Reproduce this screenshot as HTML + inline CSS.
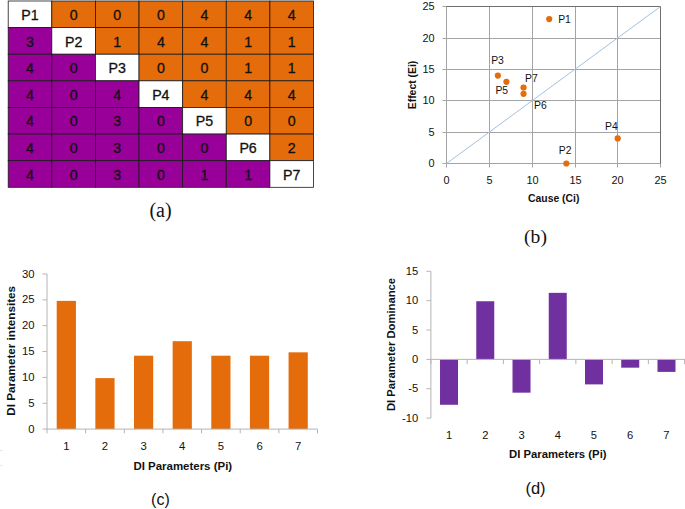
<!DOCTYPE html>
<html lang="en">
<head>
<meta charset="utf-8">
<title>DI parameter figure</title>
<style>
html,body{margin:0;padding:0;background:#fff;}
body{width:685px;height:509px;overflow:hidden;}
svg{display:block;}
</style>
</head>
<body>
<svg width="685" height="509" viewBox="0 0 685 509">
<rect width="685" height="509" fill="#fff"/>
<g id="matrix">
<rect x="8.20" y="1.00" width="43.61" height="26.61" fill="#fff" stroke="#1a1a1a" stroke-width="0.8"/>
<rect x="51.81" y="1.00" width="43.61" height="26.61" fill="#E46C0A" stroke="#1a1a1a" stroke-width="0.8"/>
<rect x="95.43" y="1.00" width="43.61" height="26.61" fill="#E46C0A" stroke="#1a1a1a" stroke-width="0.8"/>
<rect x="139.04" y="1.00" width="43.61" height="26.61" fill="#E46C0A" stroke="#1a1a1a" stroke-width="0.8"/>
<rect x="182.66" y="1.00" width="43.61" height="26.61" fill="#E46C0A" stroke="#1a1a1a" stroke-width="0.8"/>
<rect x="226.27" y="1.00" width="43.61" height="26.61" fill="#E46C0A" stroke="#1a1a1a" stroke-width="0.8"/>
<rect x="269.89" y="1.00" width="43.61" height="26.61" fill="#E46C0A" stroke="#1a1a1a" stroke-width="0.8"/>
<rect x="8.20" y="27.61" width="43.61" height="26.61" fill="#990099" stroke="#1a1a1a" stroke-width="0.8"/>
<rect x="51.81" y="27.61" width="43.61" height="26.61" fill="#fff" stroke="#1a1a1a" stroke-width="0.8"/>
<rect x="95.43" y="27.61" width="43.61" height="26.61" fill="#E46C0A" stroke="#1a1a1a" stroke-width="0.8"/>
<rect x="139.04" y="27.61" width="43.61" height="26.61" fill="#E46C0A" stroke="#1a1a1a" stroke-width="0.8"/>
<rect x="182.66" y="27.61" width="43.61" height="26.61" fill="#E46C0A" stroke="#1a1a1a" stroke-width="0.8"/>
<rect x="226.27" y="27.61" width="43.61" height="26.61" fill="#E46C0A" stroke="#1a1a1a" stroke-width="0.8"/>
<rect x="269.89" y="27.61" width="43.61" height="26.61" fill="#E46C0A" stroke="#1a1a1a" stroke-width="0.8"/>
<rect x="8.20" y="54.23" width="43.61" height="26.61" fill="#990099" stroke="#1a1a1a" stroke-width="0.8"/>
<rect x="51.81" y="54.23" width="43.61" height="26.61" fill="#990099" stroke="#1a1a1a" stroke-width="0.8"/>
<rect x="95.43" y="54.23" width="43.61" height="26.61" fill="#fff" stroke="#1a1a1a" stroke-width="0.8"/>
<rect x="139.04" y="54.23" width="43.61" height="26.61" fill="#E46C0A" stroke="#1a1a1a" stroke-width="0.8"/>
<rect x="182.66" y="54.23" width="43.61" height="26.61" fill="#E46C0A" stroke="#1a1a1a" stroke-width="0.8"/>
<rect x="226.27" y="54.23" width="43.61" height="26.61" fill="#E46C0A" stroke="#1a1a1a" stroke-width="0.8"/>
<rect x="269.89" y="54.23" width="43.61" height="26.61" fill="#E46C0A" stroke="#1a1a1a" stroke-width="0.8"/>
<rect x="8.20" y="80.84" width="43.61" height="26.61" fill="#990099" stroke="#1a1a1a" stroke-width="0.8"/>
<rect x="51.81" y="80.84" width="43.61" height="26.61" fill="#990099" stroke="#1a1a1a" stroke-width="0.8"/>
<rect x="95.43" y="80.84" width="43.61" height="26.61" fill="#990099" stroke="#1a1a1a" stroke-width="0.8"/>
<rect x="139.04" y="80.84" width="43.61" height="26.61" fill="#fff" stroke="#1a1a1a" stroke-width="0.8"/>
<rect x="182.66" y="80.84" width="43.61" height="26.61" fill="#E46C0A" stroke="#1a1a1a" stroke-width="0.8"/>
<rect x="226.27" y="80.84" width="43.61" height="26.61" fill="#E46C0A" stroke="#1a1a1a" stroke-width="0.8"/>
<rect x="269.89" y="80.84" width="43.61" height="26.61" fill="#E46C0A" stroke="#1a1a1a" stroke-width="0.8"/>
<rect x="8.20" y="107.46" width="43.61" height="26.61" fill="#990099" stroke="#1a1a1a" stroke-width="0.8"/>
<rect x="51.81" y="107.46" width="43.61" height="26.61" fill="#990099" stroke="#1a1a1a" stroke-width="0.8"/>
<rect x="95.43" y="107.46" width="43.61" height="26.61" fill="#990099" stroke="#1a1a1a" stroke-width="0.8"/>
<rect x="139.04" y="107.46" width="43.61" height="26.61" fill="#990099" stroke="#1a1a1a" stroke-width="0.8"/>
<rect x="182.66" y="107.46" width="43.61" height="26.61" fill="#fff" stroke="#1a1a1a" stroke-width="0.8"/>
<rect x="226.27" y="107.46" width="43.61" height="26.61" fill="#E46C0A" stroke="#1a1a1a" stroke-width="0.8"/>
<rect x="269.89" y="107.46" width="43.61" height="26.61" fill="#E46C0A" stroke="#1a1a1a" stroke-width="0.8"/>
<rect x="8.20" y="134.07" width="43.61" height="26.61" fill="#990099" stroke="#1a1a1a" stroke-width="0.8"/>
<rect x="51.81" y="134.07" width="43.61" height="26.61" fill="#990099" stroke="#1a1a1a" stroke-width="0.8"/>
<rect x="95.43" y="134.07" width="43.61" height="26.61" fill="#990099" stroke="#1a1a1a" stroke-width="0.8"/>
<rect x="139.04" y="134.07" width="43.61" height="26.61" fill="#990099" stroke="#1a1a1a" stroke-width="0.8"/>
<rect x="182.66" y="134.07" width="43.61" height="26.61" fill="#990099" stroke="#1a1a1a" stroke-width="0.8"/>
<rect x="226.27" y="134.07" width="43.61" height="26.61" fill="#fff" stroke="#1a1a1a" stroke-width="0.8"/>
<rect x="269.89" y="134.07" width="43.61" height="26.61" fill="#E46C0A" stroke="#1a1a1a" stroke-width="0.8"/>
<rect x="8.20" y="160.69" width="43.61" height="26.61" fill="#990099" stroke="#1a1a1a" stroke-width="0.8"/>
<rect x="51.81" y="160.69" width="43.61" height="26.61" fill="#990099" stroke="#1a1a1a" stroke-width="0.8"/>
<rect x="95.43" y="160.69" width="43.61" height="26.61" fill="#990099" stroke="#1a1a1a" stroke-width="0.8"/>
<rect x="139.04" y="160.69" width="43.61" height="26.61" fill="#990099" stroke="#1a1a1a" stroke-width="0.8"/>
<rect x="182.66" y="160.69" width="43.61" height="26.61" fill="#990099" stroke="#1a1a1a" stroke-width="0.8"/>
<rect x="226.27" y="160.69" width="43.61" height="26.61" fill="#990099" stroke="#1a1a1a" stroke-width="0.8"/>
<rect x="269.89" y="160.69" width="43.61" height="26.61" fill="#fff" stroke="#1a1a1a" stroke-width="0.8"/>
<text x="30.01" y="20.00" font-family='"Liberation Sans", sans-serif' font-size="14.2" text-anchor="middle" fill="#111" stroke="#111" stroke-width="0.3">P1</text>
<text x="73.62" y="20.00" font-family='"Liberation Sans", sans-serif' font-size="14.2" text-anchor="middle" fill="#111" stroke="#111" stroke-width="0.3">0</text>
<text x="117.24" y="20.00" font-family='"Liberation Sans", sans-serif' font-size="14.2" text-anchor="middle" fill="#111" stroke="#111" stroke-width="0.3">0</text>
<text x="160.85" y="20.00" font-family='"Liberation Sans", sans-serif' font-size="14.2" text-anchor="middle" fill="#111" stroke="#111" stroke-width="0.3">0</text>
<text x="204.46" y="20.00" font-family='"Liberation Sans", sans-serif' font-size="14.2" text-anchor="middle" fill="#111" stroke="#111" stroke-width="0.3">4</text>
<text x="248.08" y="20.00" font-family='"Liberation Sans", sans-serif' font-size="14.2" text-anchor="middle" fill="#111" stroke="#111" stroke-width="0.3">4</text>
<text x="291.69" y="20.00" font-family='"Liberation Sans", sans-serif' font-size="14.2" text-anchor="middle" fill="#111" stroke="#111" stroke-width="0.3">4</text>
<text x="30.01" y="46.61" font-family='"Liberation Sans", sans-serif' font-size="14.2" text-anchor="middle" fill="#111" stroke="#111" stroke-width="0.3">3</text>
<text x="73.62" y="46.61" font-family='"Liberation Sans", sans-serif' font-size="14.2" text-anchor="middle" fill="#111" stroke="#111" stroke-width="0.3">P2</text>
<text x="117.24" y="46.61" font-family='"Liberation Sans", sans-serif' font-size="14.2" text-anchor="middle" fill="#111" stroke="#111" stroke-width="0.3">1</text>
<text x="160.85" y="46.61" font-family='"Liberation Sans", sans-serif' font-size="14.2" text-anchor="middle" fill="#111" stroke="#111" stroke-width="0.3">4</text>
<text x="204.46" y="46.61" font-family='"Liberation Sans", sans-serif' font-size="14.2" text-anchor="middle" fill="#111" stroke="#111" stroke-width="0.3">4</text>
<text x="248.08" y="46.61" font-family='"Liberation Sans", sans-serif' font-size="14.2" text-anchor="middle" fill="#111" stroke="#111" stroke-width="0.3">1</text>
<text x="291.69" y="46.61" font-family='"Liberation Sans", sans-serif' font-size="14.2" text-anchor="middle" fill="#111" stroke="#111" stroke-width="0.3">1</text>
<text x="30.01" y="73.23" font-family='"Liberation Sans", sans-serif' font-size="14.2" text-anchor="middle" fill="#111" stroke="#111" stroke-width="0.3">4</text>
<text x="73.62" y="73.23" font-family='"Liberation Sans", sans-serif' font-size="14.2" text-anchor="middle" fill="#111" stroke="#111" stroke-width="0.3">0</text>
<text x="117.24" y="73.23" font-family='"Liberation Sans", sans-serif' font-size="14.2" text-anchor="middle" fill="#111" stroke="#111" stroke-width="0.3">P3</text>
<text x="160.85" y="73.23" font-family='"Liberation Sans", sans-serif' font-size="14.2" text-anchor="middle" fill="#111" stroke="#111" stroke-width="0.3">0</text>
<text x="204.46" y="73.23" font-family='"Liberation Sans", sans-serif' font-size="14.2" text-anchor="middle" fill="#111" stroke="#111" stroke-width="0.3">0</text>
<text x="248.08" y="73.23" font-family='"Liberation Sans", sans-serif' font-size="14.2" text-anchor="middle" fill="#111" stroke="#111" stroke-width="0.3">1</text>
<text x="291.69" y="73.23" font-family='"Liberation Sans", sans-serif' font-size="14.2" text-anchor="middle" fill="#111" stroke="#111" stroke-width="0.3">1</text>
<text x="30.01" y="99.84" font-family='"Liberation Sans", sans-serif' font-size="14.2" text-anchor="middle" fill="#111" stroke="#111" stroke-width="0.3">4</text>
<text x="73.62" y="99.84" font-family='"Liberation Sans", sans-serif' font-size="14.2" text-anchor="middle" fill="#111" stroke="#111" stroke-width="0.3">0</text>
<text x="117.24" y="99.84" font-family='"Liberation Sans", sans-serif' font-size="14.2" text-anchor="middle" fill="#111" stroke="#111" stroke-width="0.3">4</text>
<text x="160.85" y="99.84" font-family='"Liberation Sans", sans-serif' font-size="14.2" text-anchor="middle" fill="#111" stroke="#111" stroke-width="0.3">P4</text>
<text x="204.46" y="99.84" font-family='"Liberation Sans", sans-serif' font-size="14.2" text-anchor="middle" fill="#111" stroke="#111" stroke-width="0.3">4</text>
<text x="248.08" y="99.84" font-family='"Liberation Sans", sans-serif' font-size="14.2" text-anchor="middle" fill="#111" stroke="#111" stroke-width="0.3">4</text>
<text x="291.69" y="99.84" font-family='"Liberation Sans", sans-serif' font-size="14.2" text-anchor="middle" fill="#111" stroke="#111" stroke-width="0.3">4</text>
<text x="30.01" y="126.46" font-family='"Liberation Sans", sans-serif' font-size="14.2" text-anchor="middle" fill="#111" stroke="#111" stroke-width="0.3">4</text>
<text x="73.62" y="126.46" font-family='"Liberation Sans", sans-serif' font-size="14.2" text-anchor="middle" fill="#111" stroke="#111" stroke-width="0.3">0</text>
<text x="117.24" y="126.46" font-family='"Liberation Sans", sans-serif' font-size="14.2" text-anchor="middle" fill="#111" stroke="#111" stroke-width="0.3">3</text>
<text x="160.85" y="126.46" font-family='"Liberation Sans", sans-serif' font-size="14.2" text-anchor="middle" fill="#111" stroke="#111" stroke-width="0.3">0</text>
<text x="204.46" y="126.46" font-family='"Liberation Sans", sans-serif' font-size="14.2" text-anchor="middle" fill="#111" stroke="#111" stroke-width="0.3">P5</text>
<text x="248.08" y="126.46" font-family='"Liberation Sans", sans-serif' font-size="14.2" text-anchor="middle" fill="#111" stroke="#111" stroke-width="0.3">0</text>
<text x="291.69" y="126.46" font-family='"Liberation Sans", sans-serif' font-size="14.2" text-anchor="middle" fill="#111" stroke="#111" stroke-width="0.3">0</text>
<text x="30.01" y="153.07" font-family='"Liberation Sans", sans-serif' font-size="14.2" text-anchor="middle" fill="#111" stroke="#111" stroke-width="0.3">4</text>
<text x="73.62" y="153.07" font-family='"Liberation Sans", sans-serif' font-size="14.2" text-anchor="middle" fill="#111" stroke="#111" stroke-width="0.3">0</text>
<text x="117.24" y="153.07" font-family='"Liberation Sans", sans-serif' font-size="14.2" text-anchor="middle" fill="#111" stroke="#111" stroke-width="0.3">3</text>
<text x="160.85" y="153.07" font-family='"Liberation Sans", sans-serif' font-size="14.2" text-anchor="middle" fill="#111" stroke="#111" stroke-width="0.3">0</text>
<text x="204.46" y="153.07" font-family='"Liberation Sans", sans-serif' font-size="14.2" text-anchor="middle" fill="#111" stroke="#111" stroke-width="0.3">0</text>
<text x="248.08" y="153.07" font-family='"Liberation Sans", sans-serif' font-size="14.2" text-anchor="middle" fill="#111" stroke="#111" stroke-width="0.3">P6</text>
<text x="291.69" y="153.07" font-family='"Liberation Sans", sans-serif' font-size="14.2" text-anchor="middle" fill="#111" stroke="#111" stroke-width="0.3">2</text>
<text x="30.01" y="179.69" font-family='"Liberation Sans", sans-serif' font-size="14.2" text-anchor="middle" fill="#111" stroke="#111" stroke-width="0.3">4</text>
<text x="73.62" y="179.69" font-family='"Liberation Sans", sans-serif' font-size="14.2" text-anchor="middle" fill="#111" stroke="#111" stroke-width="0.3">0</text>
<text x="117.24" y="179.69" font-family='"Liberation Sans", sans-serif' font-size="14.2" text-anchor="middle" fill="#111" stroke="#111" stroke-width="0.3">3</text>
<text x="160.85" y="179.69" font-family='"Liberation Sans", sans-serif' font-size="14.2" text-anchor="middle" fill="#111" stroke="#111" stroke-width="0.3">0</text>
<text x="204.46" y="179.69" font-family='"Liberation Sans", sans-serif' font-size="14.2" text-anchor="middle" fill="#111" stroke="#111" stroke-width="0.3">1</text>
<text x="248.08" y="179.69" font-family='"Liberation Sans", sans-serif' font-size="14.2" text-anchor="middle" fill="#111" stroke="#111" stroke-width="0.3">1</text>
<text x="291.69" y="179.69" font-family='"Liberation Sans", sans-serif' font-size="14.2" text-anchor="middle" fill="#111" stroke="#111" stroke-width="0.3">P7</text>
</g>
<text x="160.5" y="216.8" font-family='"Liberation Serif", serif' font-size="20" text-anchor="middle" fill="#111">(a)</text>
<g id="scatter">
<line x1="442.50" y1="163.5" x2="660.50" y2="163.5" stroke="#a4a4a4" stroke-width="1"/>
<line x1="446.5" y1="6.50" x2="446.5" y2="167.50" stroke="#a4a4a4" stroke-width="1"/>
<line x1="442.50" y1="132.5" x2="660.50" y2="132.5" stroke="#a4a4a4" stroke-width="1"/>
<line x1="489.5" y1="6.50" x2="489.5" y2="167.50" stroke="#a4a4a4" stroke-width="1"/>
<line x1="442.50" y1="100.5" x2="660.50" y2="100.5" stroke="#a4a4a4" stroke-width="1"/>
<line x1="532.5" y1="6.50" x2="532.5" y2="167.50" stroke="#a4a4a4" stroke-width="1"/>
<line x1="442.50" y1="69.5" x2="660.50" y2="69.5" stroke="#a4a4a4" stroke-width="1"/>
<line x1="575.5" y1="6.50" x2="575.5" y2="167.50" stroke="#a4a4a4" stroke-width="1"/>
<line x1="442.50" y1="38.5" x2="660.50" y2="38.5" stroke="#a4a4a4" stroke-width="1"/>
<line x1="617.5" y1="6.50" x2="617.5" y2="167.50" stroke="#a4a4a4" stroke-width="1"/>
<line x1="442.50" y1="6.5" x2="660.50" y2="6.5" stroke="#a4a4a4" stroke-width="1"/>
<line x1="660.5" y1="6.50" x2="660.5" y2="167.50" stroke="#a4a4a4" stroke-width="1"/>
<polyline points="446.5,6.5 660.5,6.5 660.5,163.5" fill="none" stroke="#6e6e6e" stroke-width="1"/>
<line x1="446.5" y1="163.5" x2="660.5" y2="6.5" stroke="#a5bfe0" stroke-width="1"/>
<text x="434.5" y="167.30" font-family='"Liberation Sans", sans-serif' font-size="10.9" text-anchor="end" fill="#111">0</text>
<text x="446.5" y="183.6" font-family='"Liberation Sans", sans-serif' font-size="10.9" text-anchor="middle" fill="#111">0</text>
<text x="434.5" y="136.30" font-family='"Liberation Sans", sans-serif' font-size="10.9" text-anchor="end" fill="#111">5</text>
<text x="489.5" y="183.6" font-family='"Liberation Sans", sans-serif' font-size="10.9" text-anchor="middle" fill="#111">5</text>
<text x="434.5" y="104.30" font-family='"Liberation Sans", sans-serif' font-size="10.9" text-anchor="end" fill="#111">10</text>
<text x="532.5" y="183.6" font-family='"Liberation Sans", sans-serif' font-size="10.9" text-anchor="middle" fill="#111">10</text>
<text x="434.5" y="73.30" font-family='"Liberation Sans", sans-serif' font-size="10.9" text-anchor="end" fill="#111">15</text>
<text x="575.5" y="183.6" font-family='"Liberation Sans", sans-serif' font-size="10.9" text-anchor="middle" fill="#111">15</text>
<text x="434.5" y="42.30" font-family='"Liberation Sans", sans-serif' font-size="10.9" text-anchor="end" fill="#111">20</text>
<text x="617.5" y="183.6" font-family='"Liberation Sans", sans-serif' font-size="10.9" text-anchor="middle" fill="#111">20</text>
<text x="434.5" y="10.30" font-family='"Liberation Sans", sans-serif' font-size="10.9" text-anchor="end" fill="#111">25</text>
<text x="660.5" y="183.6" font-family='"Liberation Sans", sans-serif' font-size="10.9" text-anchor="middle" fill="#111">25</text>
<circle cx="549.22" cy="19.06" r="3.1" fill="#E46C0A"/>
<circle cx="566.34" cy="163.50" r="3.1" fill="#E46C0A"/>
<circle cx="497.86" cy="75.58" r="3.1" fill="#E46C0A"/>
<circle cx="617.70" cy="138.38" r="3.1" fill="#E46C0A"/>
<circle cx="506.42" cy="81.86" r="3.1" fill="#E46C0A"/>
<circle cx="523.54" cy="93.79" r="3.1" fill="#E46C0A"/>
<circle cx="523.54" cy="87.51" r="3.1" fill="#E46C0A"/>
<text x="558.2" y="22.7" font-family='"Liberation Sans", sans-serif' font-size="10.9" textLength="12.7" lengthAdjust="spacingAndGlyphs" fill="#111">P1</text>
<text x="558.8" y="154.0" font-family='"Liberation Sans", sans-serif' font-size="10.9" textLength="12.7" lengthAdjust="spacingAndGlyphs" fill="#111">P2</text>
<text x="491.2" y="63.5" font-family='"Liberation Sans", sans-serif' font-size="10.9" textLength="12.7" lengthAdjust="spacingAndGlyphs" fill="#111">P3</text>
<text x="605.0" y="129.8" font-family='"Liberation Sans", sans-serif' font-size="10.9" textLength="12.7" lengthAdjust="spacingAndGlyphs" fill="#111">P4</text>
<text x="495.4" y="93.8" font-family='"Liberation Sans", sans-serif' font-size="10.9" textLength="12.7" lengthAdjust="spacingAndGlyphs" fill="#111">P5</text>
<text x="534.0" y="109.4" font-family='"Liberation Sans", sans-serif' font-size="10.9" textLength="12.7" lengthAdjust="spacingAndGlyphs" fill="#111">P6</text>
<text x="525.0" y="81.5" font-family='"Liberation Sans", sans-serif' font-size="10.9" textLength="12.7" lengthAdjust="spacingAndGlyphs" fill="#111">P7</text>
<text x="553.7" y="202" font-family='"Liberation Sans", sans-serif' font-size="10.8" font-weight="bold" text-anchor="middle" textLength="51.4" lengthAdjust="spacingAndGlyphs" fill="#111">Cause (Ci)</text>
<text transform="translate(416.2 85) rotate(-90)" font-family='"Liberation Sans", sans-serif' font-size="10.8" font-weight="bold" text-anchor="middle" textLength="48.5" lengthAdjust="spacingAndGlyphs" fill="#111">Effect (Ei)</text>
</g>
<text x="535.5" y="243.3" font-family='"Liberation Serif", serif' font-size="19.6" text-anchor="middle" fill="#111">(b)</text>
<g id="barc">
<rect x="56.72" y="300.88" width="19.2" height="128.22" fill="#E46C0A"/>
<rect x="95.36" y="378.12" width="19.2" height="50.98" fill="#E46C0A"/>
<rect x="134.01" y="355.69" width="19.2" height="73.41" fill="#E46C0A"/>
<rect x="172.65" y="341.21" width="19.2" height="87.89" fill="#E46C0A"/>
<rect x="211.29" y="355.69" width="19.2" height="73.41" fill="#E46C0A"/>
<rect x="249.94" y="355.69" width="19.2" height="73.41" fill="#E46C0A"/>
<rect x="288.58" y="352.33" width="19.2" height="76.77" fill="#E46C0A"/>
<line x1="47.0" y1="274.0" x2="47.0" y2="429.1" stroke="#b4b4b4" stroke-width="1"/>
<line x1="47.0" y1="429.1" x2="317.5" y2="429.1" stroke="#b4b4b4" stroke-width="1"/>
<line x1="42.5" y1="429.10" x2="47.0" y2="429.10" stroke="#b4b4b4" stroke-width="1"/>
<text x="34.5" y="432.60" font-family='"Liberation Sans", sans-serif' font-size="11.3" text-anchor="end" fill="#111">0</text>
<line x1="42.5" y1="403.25" x2="47.0" y2="403.25" stroke="#b4b4b4" stroke-width="1"/>
<text x="34.5" y="406.75" font-family='"Liberation Sans", sans-serif' font-size="11.3" text-anchor="end" fill="#111">5</text>
<line x1="42.5" y1="377.40" x2="47.0" y2="377.40" stroke="#b4b4b4" stroke-width="1"/>
<text x="34.5" y="380.90" font-family='"Liberation Sans", sans-serif' font-size="11.3" text-anchor="end" fill="#111">10</text>
<line x1="42.5" y1="351.55" x2="47.0" y2="351.55" stroke="#b4b4b4" stroke-width="1"/>
<text x="34.5" y="355.05" font-family='"Liberation Sans", sans-serif' font-size="11.3" text-anchor="end" fill="#111">15</text>
<line x1="42.5" y1="325.70" x2="47.0" y2="325.70" stroke="#b4b4b4" stroke-width="1"/>
<text x="34.5" y="329.20" font-family='"Liberation Sans", sans-serif' font-size="11.3" text-anchor="end" fill="#111">20</text>
<line x1="42.5" y1="299.85" x2="47.0" y2="299.85" stroke="#b4b4b4" stroke-width="1"/>
<text x="34.5" y="303.35" font-family='"Liberation Sans", sans-serif' font-size="11.3" text-anchor="end" fill="#111">25</text>
<line x1="42.5" y1="274.00" x2="47.0" y2="274.00" stroke="#b4b4b4" stroke-width="1"/>
<text x="34.5" y="277.50" font-family='"Liberation Sans", sans-serif' font-size="11.3" text-anchor="end" fill="#111">30</text>
<line x1="47.00" y1="429.1" x2="47.00" y2="433.3" stroke="#b4b4b4" stroke-width="1"/>
<line x1="85.64" y1="429.1" x2="85.64" y2="433.3" stroke="#b4b4b4" stroke-width="1"/>
<line x1="124.29" y1="429.1" x2="124.29" y2="433.3" stroke="#b4b4b4" stroke-width="1"/>
<line x1="162.93" y1="429.1" x2="162.93" y2="433.3" stroke="#b4b4b4" stroke-width="1"/>
<line x1="201.57" y1="429.1" x2="201.57" y2="433.3" stroke="#b4b4b4" stroke-width="1"/>
<line x1="240.21" y1="429.1" x2="240.21" y2="433.3" stroke="#b4b4b4" stroke-width="1"/>
<line x1="278.86" y1="429.1" x2="278.86" y2="433.3" stroke="#b4b4b4" stroke-width="1"/>
<line x1="317.50" y1="429.1" x2="317.50" y2="433.3" stroke="#b4b4b4" stroke-width="1"/>
<text x="66.32" y="450" font-family='"Liberation Sans", sans-serif' font-size="11.3" text-anchor="middle" fill="#111">1</text>
<text x="104.96" y="450" font-family='"Liberation Sans", sans-serif' font-size="11.3" text-anchor="middle" fill="#111">2</text>
<text x="143.61" y="450" font-family='"Liberation Sans", sans-serif' font-size="11.3" text-anchor="middle" fill="#111">3</text>
<text x="182.25" y="450" font-family='"Liberation Sans", sans-serif' font-size="11.3" text-anchor="middle" fill="#111">4</text>
<text x="220.89" y="450" font-family='"Liberation Sans", sans-serif' font-size="11.3" text-anchor="middle" fill="#111">5</text>
<text x="259.54" y="450" font-family='"Liberation Sans", sans-serif' font-size="11.3" text-anchor="middle" fill="#111">6</text>
<text x="298.18" y="450" font-family='"Liberation Sans", sans-serif' font-size="11.3" text-anchor="middle" fill="#111">7</text>
<text x="182.8" y="469.6" font-family='"Liberation Sans", sans-serif' font-size="10.8" font-weight="bold" text-anchor="middle" textLength="98.7" lengthAdjust="spacingAndGlyphs" fill="#111">DI Parameters (Pi)</text>
<text transform="translate(15.0 350.85) rotate(-90)" font-family='"Liberation Sans", sans-serif' font-size="10.8" font-weight="bold" text-anchor="middle" textLength="129.7" lengthAdjust="spacingAndGlyphs" fill="#111">DI Parameter intensites</text>
</g>
<text x="160.4" y="505.2" font-family='"Liberation Sans", sans-serif' font-size="16" text-anchor="middle" fill="#111">(c)</text>
<line x1="0" y1="450.6" x2="2.6" y2="450.6" stroke="#e4e4e4" stroke-width="1"/>
<line x1="0" y1="465.5" x2="2.6" y2="465.5" stroke="#e9e9e9" stroke-width="1"/>
<g id="bard">
<rect x="440.02" y="359.38" width="18" height="45.39" fill="#7030A0"/>
<rect x="476.26" y="301.25" width="18" height="58.13" fill="#7030A0"/>
<rect x="512.51" y="359.38" width="18" height="33.29" fill="#7030A0"/>
<rect x="548.75" y="292.85" width="18" height="66.53" fill="#7030A0"/>
<rect x="584.99" y="359.38" width="18" height="25.01" fill="#7030A0"/>
<rect x="621.24" y="359.38" width="18" height="8.28" fill="#7030A0"/>
<rect x="657.48" y="359.38" width="18" height="12.51" fill="#7030A0"/>
<line x1="430.9" y1="271.3" x2="430.9" y2="418.1" stroke="#b4b4b4" stroke-width="1"/>
<line x1="430.9" y1="359.38" x2="685" y2="359.38" stroke="#b4b4b4" stroke-width="1"/>
<line x1="426.4" y1="418.10" x2="430.9" y2="418.10" stroke="#b4b4b4" stroke-width="1"/>
<text x="418.2" y="421.80" font-family='"Liberation Sans", sans-serif' font-size="11.2" text-anchor="end" fill="#111">-10</text>
<line x1="426.4" y1="388.74" x2="430.9" y2="388.74" stroke="#b4b4b4" stroke-width="1"/>
<text x="418.2" y="392.44" font-family='"Liberation Sans", sans-serif' font-size="11.2" text-anchor="end" fill="#111">-5</text>
<line x1="426.4" y1="359.38" x2="430.9" y2="359.38" stroke="#b4b4b4" stroke-width="1"/>
<text x="418.2" y="363.08" font-family='"Liberation Sans", sans-serif' font-size="11.2" text-anchor="end" fill="#111">0</text>
<line x1="426.4" y1="330.02" x2="430.9" y2="330.02" stroke="#b4b4b4" stroke-width="1"/>
<text x="418.2" y="333.72" font-family='"Liberation Sans", sans-serif' font-size="11.2" text-anchor="end" fill="#111">5</text>
<line x1="426.4" y1="300.66" x2="430.9" y2="300.66" stroke="#b4b4b4" stroke-width="1"/>
<text x="418.2" y="304.36" font-family='"Liberation Sans", sans-serif' font-size="11.2" text-anchor="end" fill="#111">10</text>
<line x1="426.4" y1="271.30" x2="430.9" y2="271.30" stroke="#b4b4b4" stroke-width="1"/>
<text x="418.2" y="275.00" font-family='"Liberation Sans", sans-serif' font-size="11.2" text-anchor="end" fill="#111">15</text>
<line x1="430.90" y1="359.38" x2="430.90" y2="364.18" stroke="#b4b4b4" stroke-width="1"/>
<line x1="467.14" y1="359.38" x2="467.14" y2="364.18" stroke="#b4b4b4" stroke-width="1"/>
<line x1="503.39" y1="359.38" x2="503.39" y2="364.18" stroke="#b4b4b4" stroke-width="1"/>
<line x1="539.63" y1="359.38" x2="539.63" y2="364.18" stroke="#b4b4b4" stroke-width="1"/>
<line x1="575.87" y1="359.38" x2="575.87" y2="364.18" stroke="#b4b4b4" stroke-width="1"/>
<line x1="612.11" y1="359.38" x2="612.11" y2="364.18" stroke="#b4b4b4" stroke-width="1"/>
<line x1="648.36" y1="359.38" x2="648.36" y2="364.18" stroke="#b4b4b4" stroke-width="1"/>
<line x1="684.60" y1="359.38" x2="684.60" y2="364.18" stroke="#b4b4b4" stroke-width="1"/>
<text x="449.02" y="438.7" font-family='"Liberation Sans", sans-serif' font-size="11.2" text-anchor="middle" fill="#111">1</text>
<text x="485.26" y="438.7" font-family='"Liberation Sans", sans-serif' font-size="11.2" text-anchor="middle" fill="#111">2</text>
<text x="521.51" y="438.7" font-family='"Liberation Sans", sans-serif' font-size="11.2" text-anchor="middle" fill="#111">3</text>
<text x="557.75" y="438.7" font-family='"Liberation Sans", sans-serif' font-size="11.2" text-anchor="middle" fill="#111">4</text>
<text x="593.99" y="438.7" font-family='"Liberation Sans", sans-serif' font-size="11.2" text-anchor="middle" fill="#111">5</text>
<text x="630.24" y="438.7" font-family='"Liberation Sans", sans-serif' font-size="11.2" text-anchor="middle" fill="#111">6</text>
<text x="666.48" y="438.7" font-family='"Liberation Sans", sans-serif' font-size="11.2" text-anchor="middle" fill="#111">7</text>
<text x="557.8" y="457.8" font-family='"Liberation Sans", sans-serif' font-size="10.8" font-weight="bold" text-anchor="middle" textLength="97.5" lengthAdjust="spacingAndGlyphs" fill="#111">DI Parameters (Pi)</text>
<text transform="translate(394.8 344.5) rotate(-90)" font-family='"Liberation Sans", sans-serif' font-size="10.8" font-weight="bold" text-anchor="middle" textLength="133" lengthAdjust="spacingAndGlyphs" fill="#111">DI Parameter Dominance</text>
</g>
<text x="535.5" y="493.6" font-family='"Liberation Sans", sans-serif' font-size="16.5" text-anchor="middle" fill="#111">(d)</text>
</svg>
</body>
</html>
